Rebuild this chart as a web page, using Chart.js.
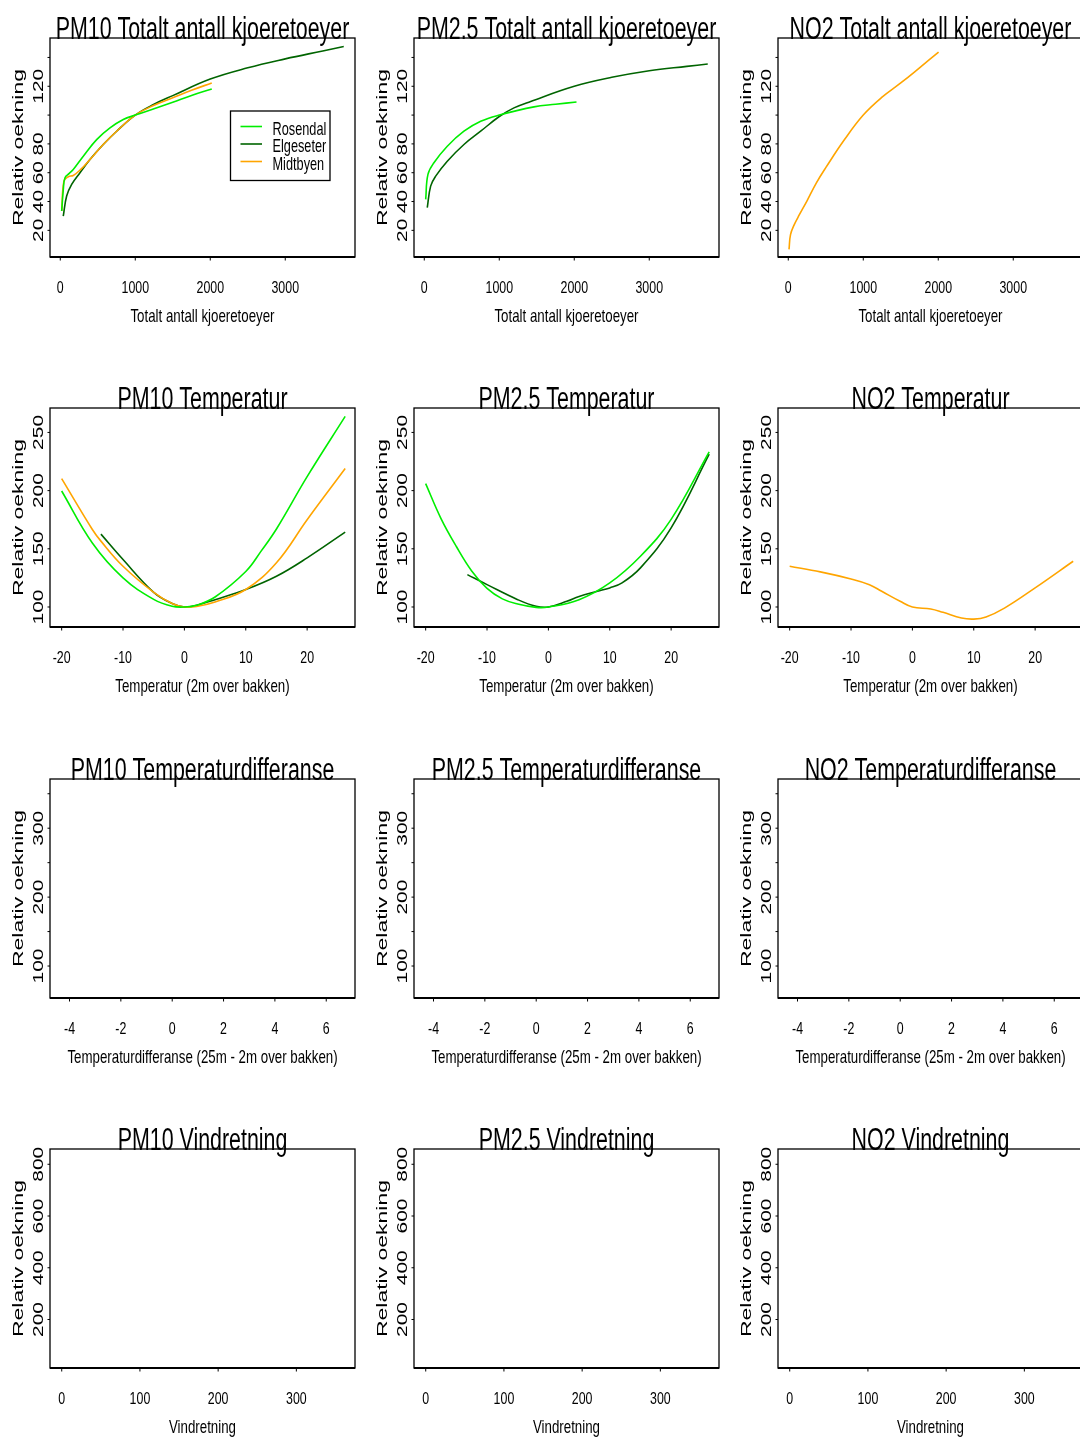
<!DOCTYPE html>
<html>
<head>
<meta charset="utf-8">
<script src="https://cdn.jsdelivr.net/npm/chart.js@4.4.1/dist/chart.umd.min.js"></script>
<style>
html,body{margin:0;padding:0;background:#fff;overflow:hidden;width:1080px;height:1439px;}
canvas{position:absolute;}
</style>
</head>
<body>
<script>
// ---------- colours / station names ----------
const stations = ['Rosendal', 'Elgeseter', 'Midtbyen'];
const stationColors = ['#00ee00', '#006400', '#ffa500'];

// ---------- Row 1: Totalt antall kjoeretoeyer ----------
const pm10TrafficRosendalX = [19, 40, 63, 120, 173, 307, 485, 663, 840, 1000, 1250, 1500, 1750, 2020];
const pm10TrafficRosendalY = [33.4, 48, 56.5, 59.5, 62.2, 71.5, 83, 91.1, 96.9, 100, 104.4, 108.9, 113.6, 118.1];
const pm10TrafficElgeseterX = [40, 85, 152, 263, 396, 573, 752, 1000, 1250, 1500, 2000, 2500, 3000, 3500, 3780];
const pm10TrafficElgeseterY = [29.9, 43.8, 51.9, 60, 69.2, 79.6, 88.8, 100, 107.5, 113.5, 125, 132.8, 139, 144.5, 147.6];
const pm10TrafficMidtbyenX = [19, 49, 107, 173, 263, 396, 573, 752, 1000, 1250, 1500, 1750, 2020];
const pm10TrafficMidtbyenY = [33.4, 54.1, 57.2, 58.1, 61.8, 69.2, 79.6, 88.8, 100, 106.8, 112, 117.2, 122.3];

const pm25TrafficRosendalX = [19, 49, 129, 307, 529, 752, 1000, 1463, 1750, 2030];
const pm25TrafficRosendalY = [41.5, 58.8, 66.9, 78.4, 88.8, 95.7, 100, 105.7, 107.5, 109.1];
const pm25TrafficElgeseterX = [40, 85, 152, 307, 529, 752, 1000, 1196, 1419, 2000, 2500, 3000, 3500, 3780];
const pm25TrafficElgeseterY = [35.7, 50.7, 57.6, 68, 79.6, 88.8, 99, 105, 109.5, 120, 126.2, 130.8, 133.8, 135.4];

const no2TrafficMidtbyenX = [10, 30, 80, 150, 250, 375, 500, 750, 1000, 1250, 1500, 1750, 2004];
const no2TrafficMidtbyenY = [6.8, 17, 24, 31, 40.5, 53, 63.5, 83, 100, 112.4, 122.3, 132.8, 143.7];

// ---------- Row 2: Temperatur ----------
const pm10TempRosendalX = [-20, -15, -10, -5, -2, 0, 2, 5, 10, 12.5, 15, 20, 26.2];
const pm10TempRosendalY = [199.7, 155, 125, 106.5, 100.6, 100, 101.5, 108.6, 130.5, 148, 167, 212, 263.8];
const pm10TempElgeseterX = [-13.6, -10, -5, -2, 0, 2, 5, 10, 15, 20, 26.2];
const pm10TempElgeseterY = [162.6, 140.8, 112.6, 103, 100, 101.5, 106.3, 115, 126.4, 142.2, 164.3];
const pm10TempMidtbyenX = [-20, -15, -13.6, -10, -5, -2, 0, 2, 5, 10, 15, 20, 26.2];
const pm10TempMidtbyenY = [210.3, 166.6, 156.6, 135, 112.6, 103, 100, 100.5, 104.3, 115, 138, 175, 219];

const pm25TempRosendalX = [-20, -17.5, -15, -12.5, -10, -7.5, -5, -2, 0, 5, 10, 15, 20, 26.2];
const pm25TempRosendalY = [206, 176, 152, 131, 116, 107, 102.6, 99.7, 100, 106.3, 120.7, 143.6, 175.3, 233.3];
const pm25TempElgeseterX = [-13.2, -10, -5, -2, 0, 3, 5, 8, 10, 12, 15, 20, 26.2];
const pm25TempElgeseterY = [127.8, 119.2, 106.3, 100.6, 100, 104.9, 109.1, 113.5, 116.4, 120.7, 133.6, 168, 231.3];

const no2TempMidtbyenX = [-20, -15, -10, -7, -5, -2, 0, 3, 5, 8, 10, 12, 15, 20, 26.2];
const no2TempMidtbyenY = [135, 130.2, 124.1, 119.2, 113.5, 104.9, 100, 98.3, 95.4, 90.5, 89.6, 91.4, 99, 116.4, 139.3];

// ---------- ticks ----------
const trafficTicksX = [0, 1000, 2000, 3000];
const trafficTicksY = [20, 40, 60, 80, 100, 120, 140];
const trafficLabelsY = ['20', '40', '60', '80', '', '120', ''];
const tempTicksX = [-20, -10, 0, 10, 20];
const tempTicksY = [100, 150, 200, 250];
const tempLabelsY = ['100', '150', '200', '250'];
const diffTicksX = [-4, -2, 0, 2, 4, 6];
const diffTicksY = [100, 150, 200, 250, 300, 350];
const diffLabelsY = ['100', '', '200', '', '300', ''];
const windTicksX = [0, 100, 200, 300];
const windTicksY = [200, 400, 600, 800];
const windLabelsY = ['200', '400', '600', '800'];

const pollutants = ['PM10', 'PM2.5', 'NO2'];
const variables = ['Totalt antall kjoeretoeyer', 'Temperatur', 'Temperaturdifferanse', 'Vindretning'];
const xAxisTitles = ['Totalt antall kjoeretoeyer', 'Temperatur (2m over bakken)', 'Temperaturdifferanse (25m - 2m over bakken)', 'Vindretning'];
const yAxisTitle = 'Relativ oekning';

// axis ranges per row
const xRanges = [[-137, 3930], [-21.9, 27.8], [-4.76, 7.12], [-15, 375]];
const yRanges = [[1.5, 153.5], [82.8, 271], [53.6, 371.4], [12.6, 859]];
const rowTicksX = [trafficTicksX, tempTicksX, diffTicksX, windTicksX];
const rowTicksY = [trafficTicksY, tempTicksY, diffTicksY, windTicksY];
const rowLabelsY = [trafficLabelsY, tempLabelsY, diffLabelsY, windLabelsY];

// series per panel [row][col]: list of [stationIndex, xs, ys]
const panelSeries = [
  [
    [[0, pm10TrafficRosendalX, pm10TrafficRosendalY], [2, pm10TrafficMidtbyenX, pm10TrafficMidtbyenY], [1, pm10TrafficElgeseterX, pm10TrafficElgeseterY]],
    [[0, pm25TrafficRosendalX, pm25TrafficRosendalY], [1, pm25TrafficElgeseterX, pm25TrafficElgeseterY]],
    [[2, no2TrafficMidtbyenX, no2TrafficMidtbyenY]]
  ],
  [
    [[0, pm10TempRosendalX, pm10TempRosendalY], [2, pm10TempMidtbyenX, pm10TempMidtbyenY], [1, pm10TempElgeseterX, pm10TempElgeseterY]],
    [[0, pm25TempRosendalX, pm25TempRosendalY], [1, pm25TempElgeseterX, pm25TempElgeseterY]],
    [[2, no2TempMidtbyenX, no2TempMidtbyenY]]
  ],
  [[], [], []],
  [[], [], []]
];

// ---------- layout ----------
const CELL_W = 364, CELL_H = 370;
const colLeft = [0, 364, 728];
const rowTop = [0, 370, 741, 1111];
const PAD = {left: 50, top: 38, right: 9, bottom: 113};
const FONT = '"Liberation Sans", Arial, Helvetica, sans-serif';

function drawText(ctx, s, x, y, size, sx, align, rot) {
  ctx.save();
  ctx.translate(x, y);
  if (rot) ctx.rotate(rot);
  ctx.scale(sx, 1);
  ctx.font = size + 'px ' + FONT;
  ctx.textAlign = align;
  ctx.textBaseline = 'alphabetic';
  ctx.fillStyle = '#000';
  ctx.fillText(s, 0, 0);
  ctx.restore();
}

const rPlot = {
  id: 'rPlot',
  afterDatasetsDraw(chart) {
    const o = chart.options.plugins.rPlot;
    const ctx = chart.ctx;
    const a = chart.chartArea;
    const xs = chart.scales.x, ys = chart.scales.y;
    ctx.save();
    ctx.strokeStyle = '#000';
    // box
    ctx.lineWidth = 1.3;
    ctx.strokeRect(a.left, a.top, a.right - a.left, a.bottom - a.top);
    ctx.lineWidth = 2.2;
    ctx.beginPath();
    ctx.moveTo(a.left, a.bottom);
    ctx.lineTo(a.right, a.bottom);
    ctx.stroke();
    // x ticks
    ctx.lineWidth = 1;
    o.ticksX.forEach(v => {
      const px = xs.getPixelForValue(v);
      ctx.beginPath();
      ctx.moveTo(px, a.bottom);
      ctx.lineTo(px, a.bottom + 3.5);
      ctx.stroke();
      drawText(ctx, String(v), px, a.bottom + 36, 17.2, 0.72, 'center', 0);
    });
    // y ticks
    o.ticksY.forEach((v, i) => {
      const py = ys.getPixelForValue(v);
      ctx.beginPath();
      ctx.moveTo(a.left - 2.5, py);
      ctx.lineTo(a.left, py);
      ctx.stroke();
      if (o.labelsY[i]) drawText(ctx, o.labelsY[i], a.left - 7.3, py, 15.4, 1.36, 'center', -Math.PI / 2);
    });
    // axis titles
    const cx = (a.left + a.right) / 2, cy = (a.top + a.bottom) / 2;
    drawText(ctx, o.xTitle, cx, a.bottom + 64.5, 18.6, 0.715, 'center', 0);
    drawText(ctx, yAxisTitle, a.left - 27.5, cy, 14, 1.64, 'center', -Math.PI / 2);
    // main title
    drawText(ctx, o.title, cx, a.top + 0.5, 31, 0.69, 'center', 0);
    // legend
    if (o.legend) {
      const lx = a.left + 180.5, ly = a.top + 73;
      ctx.lineWidth = 1.3;
      ctx.strokeRect(lx, ly, 99.5, 69.5);
      stations.forEach((name, i) => {
        const rowY = ly + 15.5 + i * 17.5;
        ctx.strokeStyle = stationColors[i];
        ctx.lineWidth = 1.6;
        ctx.beginPath();
        ctx.moveTo(lx + 10, rowY);
        ctx.lineTo(lx + 31.5, rowY);
        ctx.stroke();
        drawText(ctx, name, lx + 42, rowY + 8, 19, 0.67, 'left', 0);
      });
    }
    ctx.restore();
  }
};

for (let r = 0; r < 4; r++) {
  for (let c = 0; c < 3; c++) {
    const cv = document.createElement('canvas');
    cv.width = CELL_W; cv.height = CELL_H;
    cv.style.left = colLeft[c] + 'px';
    cv.style.top = rowTop[r] + 'px';
    cv.style.width = CELL_W + 'px'; cv.style.height = CELL_H + 'px';
    document.body.appendChild(cv);
    const datasets = panelSeries[r][c].map(([si, xv, yv]) => ({
      label: stations[si],
      data: xv.map((x, i) => ({x: x, y: yv[i]})),
      borderColor: stationColors[si],
      borderWidth: 1.6,
      pointRadius: 0,
      fill: false,
      tension: 0.4
    }));
    new Chart(cv, {
      type: 'line',
      data: {datasets: datasets},
      options: {
        responsive: false,
        animation: false,
        devicePixelRatio: 1,
        events: [],
        layout: {padding: PAD},
        scales: {
          x: {type: 'linear', display: false, min: xRanges[r][0], max: xRanges[r][1]},
          y: {type: 'linear', display: false, min: yRanges[r][0], max: yRanges[r][1]}
        },
        plugins: {
          legend: {display: false},
          title: {display: false},
          tooltip: {enabled: false},
          rPlot: {
            ticksX: rowTicksX[r],
            ticksY: rowTicksY[r],
            labelsY: rowLabelsY[r],
            xTitle: xAxisTitles[r],
            title: pollutants[c] + ' ' + variables[r],
            legend: (r === 0 && c === 0)
          }
        }
      },
      plugins: [rPlot]
    });
  }
}
</script>
</body>
</html>
